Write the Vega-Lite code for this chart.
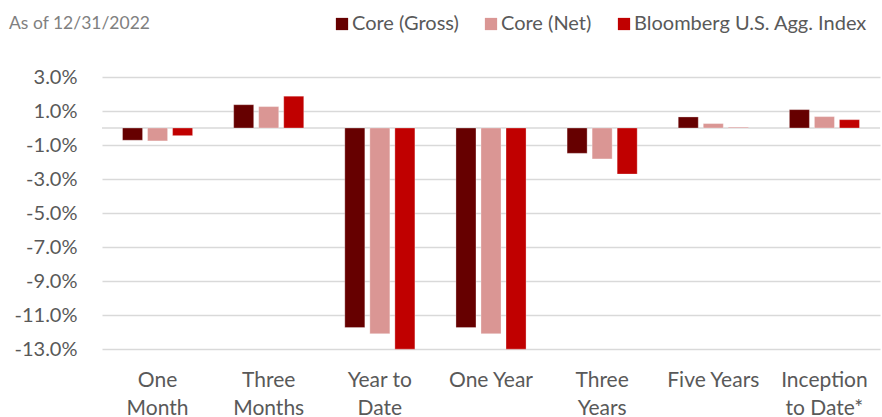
{
  "$schema": "https://vega.github.io/schema/vega-lite/v6.json",
  "autosize": "none",
  "width": 778,
  "height": 272,
  "padding": {"left": 102, "top": 77, "right": 2, "bottom": 68},
  "background": "white",
  "title": {
    "text": "As of 12/31/2022",
    "anchor": "start",
    "orient": "top",
    "frame": "bounds",
    "dx": -5,
    "offset": 0,
    "dy": 18,
    "font": "Lato",
    "fontSize": 17.5,
    "fontWeight": "normal",
    "color": "#808080"
  },
  "config": {
    "view": {"stroke": null},
    "font": "Lato"
  },
  "data": {
    "values": [
      {"period": "One Month", "series": "Core (Gross)", "value": -0.72},
      {"period": "One Month", "series": "Core (Net)", "value": -0.76},
      {"period": "One Month", "series": "Bloomberg U.S. Agg. Index", "value": -0.45},
      {"period": "Three Months", "series": "Core (Gross)", "value": 1.37},
      {"period": "Three Months", "series": "Core (Net)", "value": 1.26},
      {"period": "Three Months", "series": "Bloomberg U.S. Agg. Index", "value": 1.87},
      {"period": "Year to Date", "series": "Core (Gross)", "value": -11.74},
      {"period": "Year to Date", "series": "Core (Net)", "value": -12.1},
      {"period": "Year to Date", "series": "Bloomberg U.S. Agg. Index", "value": -13.01},
      {"period": "One Year", "series": "Core (Gross)", "value": -11.74},
      {"period": "One Year", "series": "Core (Net)", "value": -12.1},
      {"period": "One Year", "series": "Bloomberg U.S. Agg. Index", "value": -13.01},
      {"period": "Three Years", "series": "Core (Gross)", "value": -1.49},
      {"period": "Three Years", "series": "Core (Net)", "value": -1.82},
      {"period": "Three Years", "series": "Bloomberg U.S. Agg. Index", "value": -2.71},
      {"period": "Five Years", "series": "Core (Gross)", "value": 0.65},
      {"period": "Five Years", "series": "Core (Net)", "value": 0.26},
      {"period": "Five Years", "series": "Bloomberg U.S. Agg. Index", "value": 0.02},
      {"period": "Inception to Date*", "series": "Core (Gross)", "value": 1.08},
      {"period": "Inception to Date*", "series": "Core (Net)", "value": 0.67},
      {"period": "Inception to Date*", "series": "Bloomberg U.S. Agg. Index", "value": 0.49}
    ]
  },
  "layer": [
    {
      "mark": {"type": "rule", "color": "#d9d9d9", "strokeWidth": 1.5},
      "data": {"values": [{"z": 0}]},
      "encoding": {
        "y": {
          "field": "z",
          "type": "quantitative",
          "scale": {"domain": [-13, 3], "nice": false, "zero": false},
          "axis": {
            "title": null,
            "values": [3, 1, -1, -3, -5, -7, -9, -11, -13],
            "labelExpr": "replace(format(datum.value, '.1f'), '\u2212', '-') + '%'",
            "labelOverlap": false,
            "domain": false,
            "ticks": false,
            "labelPadding": 25,
            "labelFontSize": 20,
            "labelColor": "#595959",
            "gridColor": "#d9d9d9",
            "gridWidth": 1.5
          }
        }
      }
    },
    {
      "mark": {"type": "bar", "stroke": "white", "strokeWidth": 0.5, "strokeOpacity": 0.6},
      "encoding": {
        "x": {
          "field": "period",
          "type": "nominal",
          "sort": ["One Month", "Three Months", "Year to Date", "One Year", "Three Years", "Five Years", "Inception to Date*"],
          "scale": {"paddingInner": 0, "paddingOuter": 0},
          "axis": {
            "title": null,
            "domain": false,
            "ticks": false,
            "labelAngle": 0,
            "labelPadding": 20,
            "labelFontSize": 21,
            "labelColor": "#595959",
            "labelLineHeight": 28,
            "labelBaseline": "top",
            "labelOverlap": false,
            "labelLimit": 200,
            "labelExpr": "datum.value == 'One Month' ? ['One', 'Month'] : datum.value == 'Three Months' ? ['Three', 'Months'] : datum.value == 'Year to Date' ? ['Year to', 'Date'] : datum.value == 'Three Years' ? ['Three', 'Years'] : datum.value == 'Inception to Date*' ? ['Inception', 'to Date*'] : datum.value"
          }
        },
        "xOffset": {
          "field": "series",
          "type": "nominal",
          "sort": ["Core (Gross)", "Core (Net)", "Bloomberg U.S. Agg. Index"],
          "scale": {"paddingInner": 0.2, "paddingOuter": 0.82}
        },
        "y": {
          "field": "value",
          "type": "quantitative",
          "scale": {"domain": [-13, 3], "nice": false, "zero": false},
          "axis": {
            "title": null,
            "values": [3, 1, -1, -3, -5, -7, -9, -11, -13],
            "labelExpr": "replace(format(datum.value, '.1f'), '\u2212', '-') + '%'",
            "labelOverlap": false,
            "domain": false,
            "ticks": false,
            "labelPadding": 25,
            "labelFontSize": 20,
            "labelColor": "#595959",
            "gridColor": "#d9d9d9",
            "gridWidth": 1.5
          }
        },
        "color": {
          "field": "series",
          "type": "nominal",
          "sort": ["Core (Gross)", "Core (Net)", "Bloomberg U.S. Agg. Index"],
          "scale": {"domain": ["Core (Gross)", "Core (Net)", "Bloomberg U.S. Agg. Index"], "range": ["#660000", "#DA9694", "#C00000"]},
          "legend": {
            "title": null,
            "orient": "none",
            "direction": "horizontal",
            "legendX": 230,
            "legendY": -63,
            "symbolType": "square",
            "symbolSize": 150,
            "symbolStrokeWidth": 0,
            "labelFontSize": 20,
            "labelLimit": 400,
            "labelColor": "#595959",
            "labelOffset": 0,
            "columnPadding": 22
          }
        }
      }
    }
  ]
}
